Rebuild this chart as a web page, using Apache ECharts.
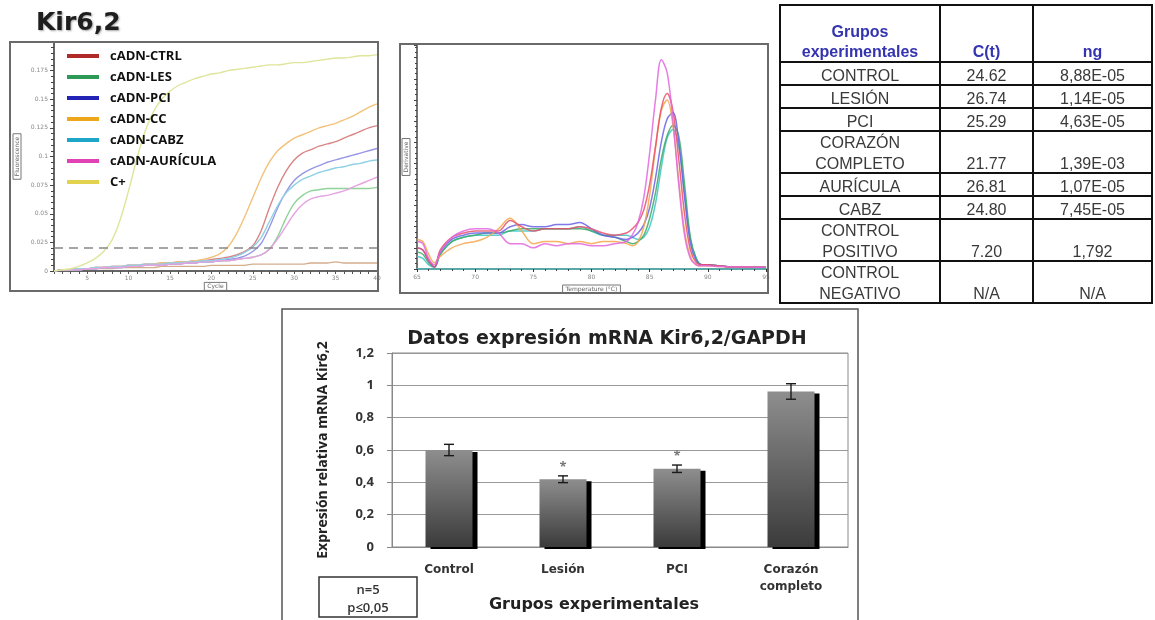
<!DOCTYPE html>
<html><head><meta charset="utf-8">
<script src="https://cdn.jsdelivr.net/npm/echarts@6/dist/echarts.min.js"></script>
<style>html,body{margin:0;padding:0;background:#fff;}#c{width:1155px;height:620px;}</style>
</head><body><div id="c"></div>
<script>
// ---------- Amplification plot data (cycles 1..40) ----------
const cycles = [1,2,3,4,5,6,7,8,9,10,11,12,13,14,15,16,17,18,19,20,21,22,23,24,25,26,27,28,29,30,31,32,33,34,35,36,37,38,39,40];
const ampXTicks = [5,10,15,20,25,30,35,40];
const ampThreshold = 0.019;
const ampCTRL = [0.000,0.001,0.001,0.002,0.002,0.003,0.003,0.004,0.004,0.005,0.005,0.006,0.006,0.007,0.007,0.008,0.008,0.009,0.009,0.010,0.011,0.012,0.014,0.017,0.022,0.035,0.055,0.073,0.087,0.097,0.103,0.106,0.109,0.111,0.113,0.116,0.119,0.122,0.125,0.127];
const ampLES  = [0.000,0.001,0.001,0.001,0.002,0.002,0.003,0.003,0.003,0.004,0.004,0.005,0.005,0.005,0.006,0.006,0.007,0.007,0.008,0.008,0.009,0.009,0.010,0.011,0.012,0.014,0.019,0.030,0.046,0.059,0.066,0.070,0.071,0.072,0.072,0.072,0.072,0.072,0.072,0.073];
const ampPCI  = [0.000,0.001,0.001,0.001,0.002,0.002,0.003,0.003,0.003,0.004,0.004,0.005,0.005,0.005,0.006,0.006,0.007,0.007,0.008,0.008,0.009,0.010,0.011,0.013,0.017,0.024,0.038,0.055,0.069,0.079,0.085,0.089,0.092,0.095,0.097,0.099,0.101,0.103,0.105,0.107];
const ampCC   = [0.000,0.001,0.001,0.002,0.002,0.003,0.003,0.004,0.004,0.005,0.005,0.006,0.006,0.007,0.007,0.008,0.008,0.009,0.010,0.012,0.015,0.021,0.032,0.047,0.064,0.081,0.095,0.105,0.111,0.116,0.119,0.122,0.125,0.127,0.129,0.132,0.135,0.139,0.143,0.146];
const ampCABZ = [0.000,0.001,0.001,0.002,0.002,0.003,0.003,0.004,0.004,0.005,0.005,0.006,0.006,0.006,0.007,0.007,0.008,0.008,0.009,0.009,0.010,0.011,0.013,0.016,0.021,0.029,0.043,0.057,0.068,0.075,0.080,0.083,0.086,0.088,0.090,0.091,0.093,0.094,0.096,0.097];
const ampAUR  = [0.000,0.001,0.001,0.001,0.002,0.002,0.003,0.003,0.003,0.004,0.004,0.005,0.005,0.005,0.006,0.006,0.007,0.007,0.008,0.008,0.009,0.009,0.010,0.011,0.012,0.014,0.019,0.028,0.039,0.050,0.058,0.063,0.065,0.066,0.068,0.070,0.073,0.076,0.079,0.082];
const ampCpos = [0.000,0.001,0.002,0.004,0.007,0.011,0.017,0.027,0.045,0.070,0.098,0.122,0.139,0.150,0.157,0.162,0.165,0.168,0.170,0.172,0.173,0.175,0.176,0.177,0.178,0.179,0.180,0.180,0.181,0.182,0.182,0.183,0.184,0.185,0.186,0.186,0.187,0.188,0.188,0.189];
const ampNeg  = [0.000,0.001,0.001,0.001,0.002,0.002,0.002,0.002,0.003,0.003,0.003,0.003,0.003,0.004,0.004,0.004,0.004,0.004,0.004,0.005,0.005,0.005,0.005,0.005,0.006,0.006,0.006,0.006,0.006,0.006,0.006,0.007,0.007,0.007,0.008,0.007,0.007,0.007,0.007,0.007];
const legendNames = ['cADN-CTRL','cADN-LES','cADN-PCI','cADN-CC','cADN-CABZ','cADN-AURÍCULA','C+'];

// ---------- Melt curve data ----------
const temps = [65,65.5,66,66.5,67,68,69,70,71,72,73,74,75,76,77,78,79,80,81,82,83,83.5,84,84.5,85,85.5,86,86.5,87,87.5,88,88.5,89,89.5,90,91,92,93,94,95];
const meltAUR  = [0.13,0.12,0.05,0.02,0.08,0.15,0.18,0.19,0.19,0.17,0.12,0.12,0.10,0.12,0.11,0.12,0.12,0.11,0.11,0.12,0.13,0.16,0.22,0.34,0.55,0.80,0.99,0.93,0.70,0.40,0.16,0.05,0.02,0.015,0.015,0.012,0.01,0.01,0.008,0.008];
const meltCC   = [0.14,0.13,0.07,0.03,0.06,0.10,0.12,0.13,0.15,0.19,0.24,0.18,0.12,0.13,0.13,0.12,0.13,0.12,0.13,0.13,0.12,0.11,0.13,0.20,0.35,0.57,0.75,0.80,0.68,0.42,0.18,0.06,0.02,0.015,0.015,0.012,0.01,0.01,0.008,0.008];
const meltCTRL = [0.10,0.09,0.04,0.01,0.09,0.15,0.17,0.18,0.18,0.18,0.23,0.20,0.18,0.19,0.19,0.19,0.20,0.19,0.17,0.16,0.17,0.19,0.22,0.28,0.40,0.58,0.76,0.83,0.75,0.52,0.26,0.09,0.03,0.02,0.02,0.015,0.01,0.01,0.008,0.008];
const meltPCI  = [0.10,0.09,0.04,0.01,0.08,0.14,0.16,0.17,0.17,0.17,0.20,0.21,0.20,0.20,0.21,0.21,0.22,0.19,0.16,0.15,0.14,0.15,0.17,0.21,0.29,0.43,0.60,0.71,0.74,0.60,0.34,0.12,0.04,0.02,0.02,0.015,0.01,0.01,0.008,0.008];
const meltLES  = [0.08,0.07,0.03,0.01,0.07,0.13,0.15,0.16,0.17,0.17,0.18,0.19,0.19,0.19,0.19,0.19,0.19,0.18,0.16,0.15,0.13,0.12,0.13,0.16,0.24,0.36,0.52,0.63,0.68,0.63,0.40,0.15,0.05,0.02,0.02,0.015,0.01,0.01,0.008,0.008];
const meltCABZ = [0.06,0.05,0.02,0.01,0.07,0.13,0.15,0.16,0.16,0.16,0.18,0.18,0.18,0.19,0.19,0.19,0.20,0.18,0.16,0.16,0.16,0.15,0.14,0.15,0.20,0.31,0.48,0.62,0.66,0.58,0.36,0.14,0.05,0.02,0.02,0.015,0.01,0.01,0.008,0.008];

// ---------- Table data ----------
const tableHeader = [['Grupos','experimentales'],['C(t)'],['ng']];
const tableGroups = [['CONTROL'],['LESIÓN'],['PCI'],['CORAZÓN','COMPLETO'],['AURÍCULA'],['CABZ'],['CONTROL','POSITIVO'],['CONTROL','NEGATIVO']];
const tableCt = ['24.62','26.74','25.29','21.77','26.81','24.80','7.20','N/A'];
const tableNg = ['8,88E-05','1,14E-05','4,63E-05','1,39E-03','1,07E-05','7,45E-05','1,792','N/A'];

// ---------- Bar chart data ----------
const barCategories = ['Control','Lesión','PCI','Corazón\ncompleto'];
const barValues = [0.60, 0.419, 0.484, 0.962];
const barErrors = [0.035, 0.021, 0.023, 0.048];
const barSignificant = [0, 1, 1, 0];

// ---------- styles ----------
const vivid = ['#b02a2a','#2e9a58','#2323b5','#eea61a','#1ea6c8','#e243b4','#e2d24e'];
const pale  = ['#d98585','#8fd39a','#9797e6','#f2c27a','#8fd0e4','#e6a2e2','#dfe59a'];
const meltColors = {CTRL:'#e8506a', LES:'#3caa66', PCI:'#6a62e6', CC:'#f4a64a', CABZ:'#3cc6c6', AUR:'#e266e0'};
const UI = "'Open Sans', 'DejaVu Sans', sans-serif";
const WIDE = "'DejaVu Sans', 'Open Sans', sans-serif";

const ampSeries = [ampCTRL, ampLES, ampPCI, ampCC, ampCABZ, ampAUR, ampCpos];

const series = [];
ampSeries.forEach((arr, k) => {
  series.push({
    name: legendNames[k], type: 'line', xAxisIndex: 0, yAxisIndex: 0,
    data: cycles.map((c, i) => [c, arr[i]]), showSymbol: false, smooth: 0.3,
    lineStyle: {color: pale[k], width: 1.4}, itemStyle: {color: vivid[k]},
    z: 3,
    markLine: k === 0 ? {
      silent: true, symbol: 'none', label: {show: false},
      lineStyle: {color: '#888', type: [9, 6], width: 1.6},
      data: [{yAxis: ampThreshold}]
    } : undefined
  });
});
series.push({
  name: 'neg', type: 'line', xAxisIndex: 0, yAxisIndex: 0,
  data: cycles.map((c, i) => [c, ampNeg[i]]), showSymbol: false, smooth: 0.3,
  lineStyle: {color: '#d4ad8c', width: 1.3}, z: 2
});

const melt = [['CABZ', meltCABZ], ['LES', meltLES], ['PCI', meltPCI], ['CC', meltCC], ['CTRL', meltCTRL], ['AUR', meltAUR]];
melt.forEach(([n, arr]) => {
  series.push({
    name: 'melt-' + n, type: 'line', xAxisIndex: 1, yAxisIndex: 1,
    data: temps.map((t, i) => [t, arr[i]]), showSymbol: false, smooth: 0.35,
    lineStyle: {color: meltColors[n], width: 1.5, opacity: 0.85}
  });
});

series.push({
  name: 'expr', type: 'bar', xAxisIndex: 2, yAxisIndex: 2,
  data: barValues, barWidth: 47,
  itemStyle: {
    color: new echarts.graphic.LinearGradient(0, 0, 0, 1, [{offset: 0, color: '#8e8e8e'}, {offset: 1, color: '#3b3b3b'}]),
    borderWidth: 0,
    shadowColor: '#000', shadowOffsetX: 5, shadowOffsetY: 2, shadowBlur: 0.01
  },
  z: 3
});
series.push({
  name: 'err', type: 'custom', xAxisIndex: 2, yAxisIndex: 2, z: 5,
  data: barValues.map((v, i) => [i, v, barErrors[i], barSignificant[i]]),
  renderItem: (params, api) => {
    const i = api.value(0), m = api.value(1), e = api.value(2), s = api.value(3);
    const top = api.coord([i, m + e]), bot = api.coord([i, m - e]);
    const cap = 5;
    const st = {stroke: '#1a1a1a', lineWidth: 1.4};
    const ch = [
      {type: 'line', shape: {x1: top[0], y1: top[1], x2: bot[0], y2: bot[1]}, style: st},
      {type: 'line', shape: {x1: top[0] - cap, y1: top[1], x2: top[0] + cap, y2: top[1]}, style: st},
      {type: 'line', shape: {x1: bot[0] - cap, y1: bot[1], x2: bot[0] + cap, y2: bot[1]}, style: st}
    ];
    if (s) ch.push({type: 'text', style: {text: '*', x: top[0], y: top[1] - 9, textAlign: 'center', textVerticalAlign: 'middle', fill: '#777', font: 'bold 13px ' + UI}});
    return {type: 'group', children: ch};
  }
});

// ---------- table graphic ----------
const g = [];
const colX = [780, 940, 1033, 1152];
const tTop = 5, headBottom = 62, single = 23, dbl = 42;
const tFont = "16px 'Liberation Sans', Arial, sans-serif";
const hFont = "bold 16px 'Liberation Sans', Arial, sans-serif";
let rowBottoms = [];
let yb = headBottom;
tableGroups.forEach(r => { yb += (r.length > 1 ? dbl : single); rowBottoms.push(yb); });
const tBottom = rowBottoms[rowBottoms.length - 1];
tableHeader.forEach((lines, c) => {
  const cx = (colX[c] + colX[c + 1]) / 2;
  lines.forEach((t, li) => {
    g.push({type: 'text', style: {text: t, x: cx, y: headBottom - 1 - (lines.length - 1 - li) * 20, textAlign: 'center', textVerticalAlign: 'bottom', font: hFont, fill: '#3434b0'}});
  });
});
tableGroups.forEach((lines, r) => {
  const b = rowBottoms[r];
  const cx = (colX[0] + colX[1]) / 2;
  lines.forEach((t, li) => {
    g.push({type: 'text', style: {text: t, x: cx, y: b - (lines.length - 1 - li) * 21, textAlign: 'center', textVerticalAlign: 'bottom', font: tFont, fill: '#3a3a3a'}});
  });
  g.push({type: 'text', style: {text: tableCt[r], x: (colX[1] + colX[2]) / 2, y: b, textAlign: 'center', textVerticalAlign: 'bottom', font: tFont, fill: '#3a3a3a'}});
  g.push({type: 'text', style: {text: tableNg[r], x: (colX[2] + colX[3]) / 2, y: b, textAlign: 'center', textVerticalAlign: 'bottom', font: tFont, fill: '#3a3a3a'}});
});
[headBottom].concat(rowBottoms.slice(0, -1)).forEach(y => {
  g.push({type: 'line', shape: {x1: colX[0], y1: y, x2: colX[3], y2: y}, style: {stroke: '#111', lineWidth: 2}});
});
[colX[1], colX[2]].forEach(x => {
  g.push({type: 'line', shape: {x1: x, y1: tTop, x2: x, y2: tBottom}, style: {stroke: '#111', lineWidth: 2}});
});
g.push({type: 'rect', shape: {x: colX[0], y: tTop, width: colX[3] - colX[0], height: tBottom - tTop}, style: {fill: 'none', stroke: '#111', lineWidth: 2}});

// panel boxes
g.push({type: 'rect', shape: {x: 10, y: 42, width: 368, height: 249}, style: {fill: 'none', stroke: '#6a6a6a', lineWidth: 2}, z: 10});
g.push({type: 'rect', shape: {x: 400, y: 44, width: 368, height: 249}, style: {fill: 'none', stroke: '#6a6a6a', lineWidth: 2}, z: 10});
g.push({type: 'rect', shape: {x: 282, y: 309, width: 576, height: 330}, style: {fill: 'none', stroke: '#555', lineWidth: 1.5}});
g.push({type: 'rect', shape: {x: 319, y: 577, width: 98, height: 40}, style: {fill: '#fff', stroke: '#333', lineWidth: 1.5}});
g.push({type: 'text', style: {text: 'n=5', x: 368, y: 590, textAlign: 'center', textVerticalAlign: 'middle', font: '600 13px ' + UI, fill: '#333'}});
g.push({type: 'text', style: {text: 'p≤0,05', x: 368, y: 608, textAlign: 'center', textVerticalAlign: 'middle', font: '600 13px ' + UI, fill: '#333'}});

const smallLbl = {fontSize: 6, color: '#888', fontFamily: 'DejaVu Sans'};
const boxedName = {fontSize: 6, color: '#666', borderColor: '#777', borderWidth: 1, padding: [1, 3], fontFamily: 'DejaVu Sans'};

const option = {
  animation: false,
  backgroundColor: '#fff',
  title: [
    {text: 'Kir6,2', left: 31, top: 6, textStyle: {fontSize: 25, fontWeight: 'bold', fontFamily: WIDE, color: '#1e1e1e', textShadowColor: 'rgba(0,0,0,0.35)', textShadowBlur: 2, textShadowOffsetX: 1, textShadowOffsetY: 1}},
    {text: 'Datos expresión mRNA Kir6,2/GAPDH', left: 602, top: 325, textAlign: 'center', textStyle: {fontSize: 19, fontWeight: 'bold', fontFamily: WIDE, color: '#222'}}
  ],
  legend: {
    data: legendNames.map((n, k) => ({name: n, itemStyle: {color: vivid[k]}})),
    orient: 'vertical', left: 62, top: 44, icon: 'rect', itemWidth: 32, itemHeight: 4, itemGap: 7,
    textStyle: {fontSize: 13, fontWeight: 'bold', fontFamily: UI, color: '#111', lineHeight: 14, padding: [0, 0, 0, 6]},
    selectedMode: false
  },
  grid: [
    {left: 54, top: 42, width: 323, height: 229},
    {left: 417, top: 45, width: 349, height: 224},
    {left: 392, top: 353, width: 456, height: 194, show: true, borderColor: '#8a8a8a', borderWidth: 1}
  ],
  xAxis: [
    {gridIndex: 0, type: 'value', min: 1, max: 40,
      name: 'Cycle', nameLocation: 'middle', nameGap: 7, nameTextStyle: boxedName,
      axisLine: {lineStyle: {color: '#333', width: 1.5}},
      axisTick: {customValues: cycles, length: 3, lineStyle: {color: '#555'}},
      axisLabel: {customValues: ampXTicks, margin: 4, ...smallLbl},
      splitLine: {show: false}},
    {gridIndex: 1, type: 'value', min: 65, max: 95, interval: 5,
      name: 'Temperature (°C)', nameLocation: 'middle', nameGap: 16, nameTextStyle: boxedName,
      axisLine: {lineStyle: {color: '#5aa8a8', width: 2}},
      axisTick: {length: 3, lineStyle: {color: '#333'}},
      minorTick: {show: true, splitNumber: 5, length: 2, lineStyle: {color: '#444'}},
      axisLabel: {margin: 5, ...smallLbl}, splitLine: {show: false}},
    {gridIndex: 2, type: 'category', data: barCategories,
      name: 'Grupos experimentales', nameLocation: 'middle', nameGap: 50,
      nameTextStyle: {fontSize: 16, fontWeight: 'bold', fontFamily: WIDE, color: '#222', padding: [0, 52, 0, 0]},
      axisLine: {lineStyle: {color: '#888'}},
      axisTick: {length: 5, lineStyle: {color: '#888'}},
      axisLabel: {margin: 14, fontSize: 12, fontWeight: 'bold', fontFamily: WIDE, color: '#333', lineHeight: 17}}
  ],
  yAxis: [
    {gridIndex: 0, type: 'value', min: 0, max: 0.2, interval: 0.025,
      name: 'Fluorescence', nameLocation: 'middle', nameGap: 33, nameRotate: 90, nameTextStyle: boxedName,
      axisLine: {show: true, lineStyle: {color: '#333', width: 1.5}},
      axisTick: {show: true, length: 4, lineStyle: {color: '#444'}},
      minorTick: {show: true, splitNumber: 5, length: 3, lineStyle: {color: '#444'}},
      axisLabel: {showMaxLabel: false, margin: 6, ...smallLbl, formatter: v => v === 0 ? '0' : String(+v.toFixed(3))},
      splitLine: {show: false}},
    {gridIndex: 1, type: 'value', min: 0, max: 1.06, interval: 0.1,
      name: 'Derivative', nameLocation: 'middle', nameGap: 7, nameRotate: 90, nameTextStyle: boxedName,
      axisLine: {show: true, lineStyle: {color: '#444', width: 1.5}},
      axisTick: {show: true, length: 3, lineStyle: {color: '#444'}},
      minorTick: {show: true, splitNumber: 4, length: 2, lineStyle: {color: '#444'}},
      axisLabel: {show: false}, splitLine: {show: false}},
    {gridIndex: 2, type: 'value', min: 0, max: 1.2, interval: 0.2,
      name: 'Expresión relativa mRNA Kir6,2', nameLocation: 'middle', nameGap: 62, nameRotate: 90,
      nameTextStyle: {fontSize: 14, fontWeight: 'bold', fontFamily: UI, color: '#222'},
      axisLine: {show: true, lineStyle: {color: '#888'}},
      axisTick: {show: true, length: 5, lineStyle: {color: '#888'}},
      axisLabel: {margin: 18, fontSize: 13, fontWeight: 'bold', fontFamily: UI, color: '#333', formatter: v => String(+v.toFixed(1)).replace('.', ',')},
      splitLine: {lineStyle: {color: '#999', width: 1}}}
  ],
  graphic: g,
  series: series
};
const chart = echarts.init(document.getElementById('c'), null, {renderer: 'canvas'});
chart.setOption(option);
</script></body></html>
